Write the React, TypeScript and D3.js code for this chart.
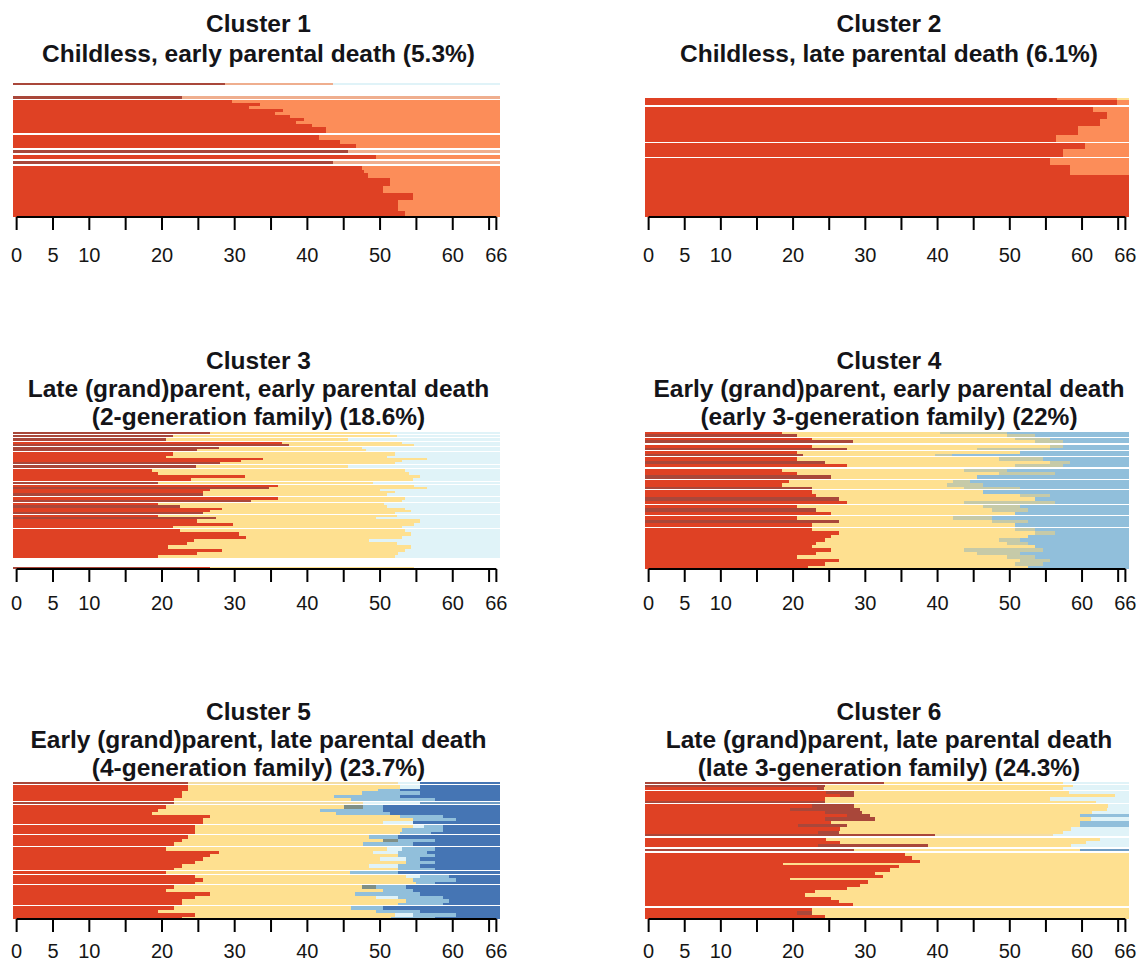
import React, { useEffect, useRef } from 'react';
import * as d3 from 'd3';

// state colours (upper case = normal row, lower case = thin / darker row)
const stateColors: Record<string, string> = {
  R: '#DF4124', r: '#A9473A',
  O: '#FC8D59', o: '#EFAE8E',
  Y: '#FEE090', y: '#F3DDA6',
  P: '#E0F3F8',
  M: '#91BFDB', m: '#6F9CC4',
  B: '#4575B4',
  G: '#C6CAA8', g: '#7F8F86',
};

const tickValues = [0, 5, 10, 15, 20, 25, 30, 35, 40, 45, 50, 55, 60, 65, 66];
const tickLabels = [0, 5, 10, 20, 30, 40, 50, 60, 66];

const clusterTitles = [
  ['Cluster 1', 'Childless, early parental death (5.3%)'],
  ['Cluster 2', 'Childless, late parental death (6.1%)'],
  ['Cluster 3', 'Late (grand)parent, early parental death', '(2-generation family) (18.6%)'],
  ['Cluster 4', 'Early (grand)parent, early parental death', '(early 3-generation family) (22%)'],
  ['Cluster 5', 'Early (grand)parent, late parental death', '(4-generation family) (23.7%)'],
  ['Cluster 6', 'Late (grand)parent, late parental death', '(late 3-generation family) (24.3%)'],
];

// each row: [height, "state:endAge state:endAge ... lastState"], "" = empty row
const cluster1Rows: [number, string][] = [
  [2, 'r:28.7 o:43.5 P'], [10, ''], [3, 'r:22.7 o'], [1.5, ''],
  [3, 'R:29.6 O'], [3, 'R:33.5 O'], [2, 'R:31.9 O'], [3, 'R:36.6 O'], [3, 'R:35.5 O'],
  [3, 'R:37.6 O'], [3, 'R:39.5 O'], [3, 'R:38.5 O'], [3, 'R:40.6 O'], [5, 'R:42.6 O'],
  [2, ''], [5, 'R:41.6 O'], [4, 'R:44.5 O'], [4, 'R:46.7 O'],
  [2, ''], [3, 'r:45.6 o'], [2, ''], [3, 'R:49.4 O'], [2, ''], [3, 'r:43.5 o'], [2, ''],
  [4, 'R:47.5 O'], [3, 'R:47.8 O'], [5, 'R:48.4 O'], [7, 'R:51.4 O'], [7, 'R:50.4 O'],
  [7, 'R:54.5 O'], [10, 'R:52.5 O'], [6, 'R:53.4 O'],
];

const cluster2Rows: [number, string][] = [
  [15.3, ''], [2, 'R:56.5 O:64.8 Y'], [5, 'R:64.8 O'], [1.5, ''],
  [5, 'R:61.5 O'], [7.3, 'R:63.5 O'], [7.3, 'R:62.5 O'], [8.3, 'R:59.4 O'], [6.7, 'R:56.4 O'],
  [1.5, ''], [6, 'R:60.4 O'], [7.6, 'R:57.4 O'], [1.5, ''],
  [6.7, 'R:55.6 O'], [10, 'R:58.4 O'], [42, 'R'],
];

const cluster3Rows: [number, string][] = [
  [2, 'r:26.6 Y:51.4 P'], [1, ''], [2, 'r:21.5 Y:52.3 P'], [1, ''], [2, 'r:20.6 Y:45.6 P'], [1, ''],
  [2, 'R:36.5 Y:53 P'], [2, 'r:37.5 Y:54.6 P'], [1, ''],
  [2, 'r:27.8 Y:47.5 P'], [2, 'r:24.8 Y:48 P'], [1, ''],
  [3, 'R:21.5 Y:52 P'], [2, 'R:20.5 Y:51 P'], [2, 'R:33.9 Y:56.4 P'], [2, 'R:30.9 Y:53 P'], [2, 'r:28 Y:52 P'], [1, ''],
  [2, 'r:24.7 Y:45.6 P'], [1, ''],
  [3, 'R:18.6 Y:53.4 P'], [3, 'R:19.5 Y:54 P'], [3, 'R:31.4 Y:55.5 P'], [2, 'R:24 Y:54.5 P'], [1, ''],
  [2, 'r:19.5 Y:49 P'], [1, ''],
  [2, 'R:35.9 Y:54.6 P'], [2, 'r:34.7 Y:56.4 P'], [2, 'R:26.6 Y:50 P'], [2, 'R:25.7 Y:52 P'], [2, 'r:25.7 Y:51 P'], [1, ''],
  [3, 'R:35.9 Y:53.4 P'], [2, 'r:32.3 Y:53 P'], [1, ''],
  [2, 'R:19.5 Y:50.6 P'], [2, 'r:22.5 Y:51 P'], [2, 'R:28.3 Y:53.4 P'], [2, 'R:26.6 Y:54.3 P'], [2, 'r:25.7 Y:52 P'], [1, ''],
  [2, 'R:19.5 Y:52.3 P'], [2, 'r:27.4 Y:49.5 P'], [3, 'R:24.8 Y:55.5 P'], [3, 'R:29.8 Y:54.6 P'], [2, 'R:21.5 Y:53 P'], [1, ''],
  [3, 'R:22.5 Y:53.4 P'], [3, 'R:30.6 Y:54.3 P'], [3, 'R:31.6 Y:53 P'], [3, 'R:24.4 Y:48.5 P'],
  [3, 'R:23.4 Y:52.3 P'], [3, 'R:20.8 Y:54.3 P'], [3, 'R:28.3 Y:53.4 P'], [3, 'R:24.8 Y:52.5 P'], [3, 'R:19.5 Y:52 P'],
  [8, ''], [2, 'r:22.5 R:26.6 Y:54.6'],
];

const cluster4Rows: [number, string][] = [
  [2, 'R:18.4 Y:40.3 G:49.6 M'], [2, 'r:20.5 Y:49.6 G:53.5 M'], [1, ''],
  [2, 'R:22.6 Y:50.7 G:55.6 M'], [3, 'r:28.3 Y:53.5 G:57.4 M'], [1, ''],
  [3, 'R:22.6 Y:55.6 G:57.4 M'], [2, 'r:27.4 Y:45.4 G:55.6 M'], [1, ''],
  [2, 'R:20.5 Y:51.4 M'], [2, 'r:21.4 Y:39.6 G:42 M'], [1, ''],
  [3, 'R:20.5 Y:48.5 G:54.6 M'], [3, 'r:24.4 Y:55.6 G:58.3 M'], [3, 'R:27.4 Y:50.7 G:57.4 M'], [1, ''],
  [3, 'R:18.4 Y:43.6 G:49.6 M'], [3, 'R:20.5 Y:48.5 G:56.3 M'], [3, 'r:25.3 Y:45.4 M'], [1, ''],
  [3, 'R:19.5 Y:42.2 G:44.5 M'], [3, 'R:18.4 Y:41.3 G:46.3 M'], [2, 'r:22.6 Y:43.6 G:51.4 M'], [1, ''],
  [3, 'R:22.6 Y:46.3 M'], [3, 'R:23.2 Y:51.4 G:55.6 M'], [3, 'r:26.3 Y:53.5 M'], [3, 'R:27.4 Y:43.6 G:56.3 M'], [1, ''],
  [3, 'R:20.5 Y:46.3 G:51.4 M'], [3, 'r:23.2 Y:47.5 G:52.5 M'], [3, 'R:25.3 Y:50.7 M'], [1, ''],
  [3, 'R:20.5 Y:42.2 G:47.5 M'], [3, 'r:26.3 Y:47.5 G:52.5 M'], [3, 'R:22.6 Y:50.7 M'], [1, ''],
  [3, 'R:22.6 Y:50.7 G:53.5 M'], [3, 'R:26.3 Y:53.5 G:56.3 M'], [3, 'R:25.3 Y:52.5 M'], [3, 'R:24.4 Y:48.5 G:51.4 M'],
  [3, 'R:23.2 Y:49.6 G:52.5 M'], [3, 'R:22.6 Y:53.5 M'], [3, 'R:25.3 Y:43.6 G:54.6 M'], [3, 'R:23.2 Y:45.4 G:51.4 M'],
  [3, 'R:20.5 Y:49.6 G:53.5 M'], [3, 'R:26.3 Y:51.4 G:55.6 M'], [3, 'R:24.4 Y:50.7 G:54.6 M'], [3, 'R:22 Y:52.5 M'],
];

const cluster5Rows: [number, string][] = [
  [2, 'r:23.6 y:52.5 P:55.5 B'], [1, ''],
  [3, 'R:23.6 Y:52.7 P:55.5 B'], [2, 'R:23.6 Y:49.7 M:52.7 B'], [3, 'R:22.7 Y:47.5 M:55.5 B'],
  [3, 'R:22.7 Y:43.6 M:52.7 B'], [2, 'R:21.6 Y:46 M:57.5 B'], [1, ''],
  [2, 'r:21.6 y:47.7 P:55.5 m'], [1, ''],
  [3, 'R:20.6 Y:45 g:47.7 M:50.4 B'], [3, 'R:19.5 Y:41.7 M:50.4 B'], [2, 'R:18.6 Y:44 M:51.4 B'],
  [3, 'R:26.6 Y:52.7 M:58.7 B'], [3, 'R:25.7 Y:54.5 M:60.5 B'], [2, 'R:25.7 Y:50.4 P:54.5 B'], [1, ''],
  [3, 'R:24.5 Y:54.5 P:56 M:58.7 B'], [3, 'R:24.5 Y:53 M:58.7 B'], [2, 'R:24.5 Y:52.7 M:57 B'], [1, ''],
  [3, 'R:23.6 Y:48.5 M:52.5 B'], [3, 'R:22.7 Y:50.4 g:52.5 M:57.5 B'], [3, 'R:21.6 Y:47.7 M:54.5 B'], [1, ''],
  [3, 'R:20.6 Y:51 P:53 M:57.5 B'], [3, 'R:27.8 Y:49 P:52.5 M:56.5 B'], [3, 'R:26.6 Y:52.5 M:57.5 B'],
  [3, 'R:25.7 Y:50 P:53.5 M:55.5 B'], [3, 'R:24.5 Y:53.5 M:57.5 B'], [3, 'R:22.7 Y:48.5 P:52.5 M:55.5 B'],
  [2, 'R:21.6 Y:52.5 M:57.5 B'], [1, ''],
  [2, 'R:20.6 Y:45.9 M:52.5 B'], [1, ''],
  [3, 'R:24.5 Y:53.6 P:55.5 M:59.5 B'], [3, 'R:25.7 Y:54.5 M:60.5 B'], [2, 'R:24.5 Y:55 M:57.5 B'], [1, ''],
  [3, 'R:21.6 Y:47.5 g:49.5 M:53.5 B'], [3, 'R:20.6 Y:50.4 M:54.5 B'], [3, 'R:26.6 Y:46.5 M:55.5 B'],
  [3, 'R:24.5 Y:49.5 P:52.5 M:58.7 B'], [3, 'R:22.7 Y:53.5 M:59.5 B'], [2, 'R:22.7 Y:52.5 M:58.7 B'], [1, ''],
  [3, 'R:21.6 Y:46 M:50.4 B'], [3, 'R:19.5 Y:49.5 M:55.5 B'], [3, 'R:24.5 Y:52 P:54.5 M:60.5 B'], [2, 'R:22.7 Y:51.5 M:57.5 B'],
];

const cluster6Rows: [number, string][] = [
  [2, 'r:32.6 Y:57.4 P'], [1, ''], [2, 'r:24.4 Y:58.8 P'], [2, 'R:23.3 r:24.3 Y:57.4 P'], [1, ''],
  [3, 'R:24.6 r:28.4 Y:58.2 P'], [3, 'R:26.5 r:28.4 Y:64.6 P'], [3, 'R:24.4 Y:55.6 P'], [2, 'r:24.4 Y:62 P'],
  [1.5, ''],
  [3, 'R:22.6 r:28.4 Y:63.6 P'], [3, 'R:19.6 r:29.3 Y:63.4 P'], [3, 'R:24.4 r:29.5 Y:61.4 P'],
  [3, 'R:27.4 r:30.6 Y:59.7 M'], [3, 'R:24.4 r:31.3 Y:61.3 P'], [3, 'R:25.3 Y:59.7 M'],
  [3, 'R:20.7 r:27.4 Y:59.7 M'], [3, 'R:26.5 Y:58.5 P'], [3, 'R:23.5 r:26.3 Y:57.4 P'], [2, 'r:39.6 y:56 P'],
  [1.5, ''],
  [3, 'R:24.6 Y:62.5 P'], [3, 'R:26.5 Y:60.5 P'], [3, 'R:23.5 r:38.7 Y:58.5 P'],
  [1.5, ''], [2, 'r:28.4 Y:59.7 m'], [1.5, ''],
  [3, 'R:35.5 Y'], [3, 'R:36.4 Y'], [3, 'R:37.6 Y'], [2, 'R:18.6 Y'], [3, 'R:34.6 Y'], [3, 'R:33.4 Y'],
  [3, 'R:31.3 Y'], [3, 'R:32.4 Y'], [2, 'R:19.6 Y'], [3, 'R:30.4 Y'], [3, 'R:29.3 Y'], [3, 'R:27.4 Y'],
  [3, 'R:23 Y'], [3, 'R:21.7 Y'], [3, 'R:25.3 Y'], [3, 'R:26.3 Y'], [3, 'R:28.3 Y'],
  [1.5, ''], [3, 'R:22.6 Y'], [3, 'R:20.5 r:22.6 Y'], [4, 'R:24.4 Y'],
];

const clusterRows = [cluster1Rows, cluster2Rows, cluster3Rows, cluster4Rows, cluster5Rows, cluster6Rows];

const App = () => {
  const svgRef = useRef<SVGSVGElement>(null);

  useEffect(() => {
    document.body.style.margin = '0';
    const svg = d3.select(svgRef.current);
    svg.selectAll('*').remove();

    const font = '"Liberation Sans", Arial, sans-serif';
    const colRanges = [[13, 500], [645, 1129]];
    const plotRows = [[83, 217], [432, 569], [782, 919]];
    const titleLast = [62, 425, 776];
    const titleStep = [30, 28, 28];
    const labelBase = [262, 610, 958];

    clusterRows.forEach((rows, i) => {
      const col = i % 2;
      const r = Math.floor(i / 2);
      const x = d3.scaleLinear().domain([-0.5, 66.5]).range(colRanges[col]);
      const total = d3.sum(rows, (d) => d[0]);
      const y = d3.scaleLinear().domain([0, total]).range(plotRows[r]);
      const g = svg.append('g');

      // split rows into state spells
      const segs: { s: string; a: number; b: number; y0: number; y1: number }[] = [];
      let cum = 0;
      rows.forEach(([h, spec]) => {
        const y0 = y(cum);
        const y1 = y(cum + h);
        cum += h;
        if (!spec) return;
        let start = -0.5;
        spec.split(' ').forEach((tok) => {
          const [s, e] = tok.split(':');
          const end = e === undefined ? 66.5 : +e;
          segs.push({ s, a: start, b: end, y0, y1 });
          start = end;
        });
      });

      g.append('g')
        .attr('shape-rendering', 'crispEdges')
        .selectAll('rect')
        .data(segs)
        .join('rect')
        .attr('x', (d) => x(d.a))
        .attr('width', (d) => x(d.b) - x(d.a))
        .attr('y', (d) => d.y0)
        .attr('height', (d) => d.y1 - d.y0)
        .attr('fill', (d) => stateColors[d.s]);

      // x axis
      const bottom = plotRows[r][1];
      const axisG = g.append('g').attr('transform', `translate(0,${bottom})`);
      axisG.append('line')
        .attr('x1', x(0)).attr('x2', x(66))
        .attr('stroke', '#000').attr('stroke-width', 2);
      axisG.selectAll('line.tick')
        .data(tickValues)
        .join('line')
        .attr('class', 'tick')
        .attr('x1', (d) => x(d)).attr('x2', (d) => x(d))
        .attr('y1', 0).attr('y2', 13)
        .attr('stroke', '#000').attr('stroke-width', 2);
      g.selectAll('text.lab')
        .data(tickLabels)
        .join('text')
        .attr('class', 'lab')
        .attr('x', (d) => x(d))
        .attr('y', labelBase[r])
        .attr('text-anchor', 'middle')
        .attr('font-family', font)
        .attr('font-size', 20)
        .attr('fill', '#151515')
        .text((d) => d);

      // title
      const lines = clusterTitles[i];
      const cx = (colRanges[col][0] + colRanges[col][1]) / 2 + 2;
      g.selectAll('text.title')
        .data(lines)
        .join('text')
        .attr('class', 'title')
        .attr('x', cx)
        .attr('y', (_, k) => titleLast[r] - (lines.length - 1 - k) * titleStep[r])
        .attr('text-anchor', 'middle')
        .attr('font-family', font)
        .attr('font-weight', 'bold')
        .attr('font-size', 24.5)
        .attr('fill', '#141418')
        .text((d) => d);
    });
  }, []);

  return <svg ref={svgRef} width={1144} height={967} style={{ display: 'block', background: '#fff' }} />;
};

export default App;
